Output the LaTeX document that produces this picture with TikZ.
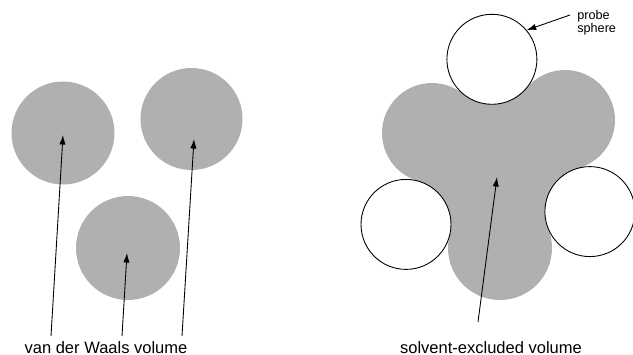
\documentclass[tikz,border=0pt]{standalone}
\usepackage{fontspec}
\setmainfont{Liberation Sans}
\usepackage{xcolor}
\usepackage{tikz}
\usetikzlibrary{arrows.meta}

\begin{document}
\begin{tikzpicture}[
    x=0.02cm, y=-0.02cm,
    font=\fontsize{9.4}{11}\selectfont,
    atom/.style={circle, fill=black!31, inner sep=0pt, minimum size=#1},
    probe/.style={circle, draw=black, line width=0.5pt, fill=white, inner sep=0pt, minimum size=1.8cm},
    ptr/.style={-{Latex[length=1.9mm,width=1.25mm]}, draw=black, line width=0.5pt}
  ]
    \useasboundingbox (0,0) rectangle (633,355);
    % van der Waals spheres
    \foreach \i/\x/\y/\d in {1/63/133/2.06cm,2/191.5/119/2.04cm,3/128/248/2.08cm} {
      \node[atom=\d] (w\i) at (\x,\y) {};
    }
    \foreach \i/\tx/\hx/\hy in {1/51/63/135,2/182/194/139,3/122/127/253} {
      \coordinate (t\i) at (\tx,336);
      \coordinate (h\i) at (\hx,\hy);
      \draw[ptr] (t\i) -- (h\i);
    }
    \node[anchor=base] (vdw) at (106,353) {van der Waals volume};
    % solvent-excluded volume
    \coordinate (c1) at (432,133);
    \coordinate (c2) at (565,120);
    \coordinate (c3) at (500,248);
    \coordinate (pc1) at (491.9,59.3);
    \coordinate (pc2) at (589.9,211.6);
    \coordinate (pc3) at (406,224.4);
    \fill[black!31] (c1) -- (pc1) -- (c2) -- (pc2) -- (c3) -- (pc3) -- cycle;
    \node[atom=2cm] (s1) at (c1) {};
    \node[atom=2cm] (s2) at (c2) {};
    \node[atom=2.08cm] (s3) at (c3) {};
    \foreach \i in {1,2,3} {
      \node[probe] (q\i) at (pc\i) {};
    }
    \coordinate (t4) at (478,322);
    \coordinate (h4) at (497,177);
    \draw[ptr] (t4) -- (h4);
    \node[anchor=base] (ses) at (491,353) {solvent-excluded volume};
    \node[anchor=north west, inner sep=0pt, align=left,
      font=\fontsize{7.2}{7.4}\selectfont] (plbl) at (577,10) {probe\\sphere};
    \coordinate (t5) at (570,15);
    \draw[ptr] (t5) -- (q1.40);
  \end{tikzpicture}
\end{document}
